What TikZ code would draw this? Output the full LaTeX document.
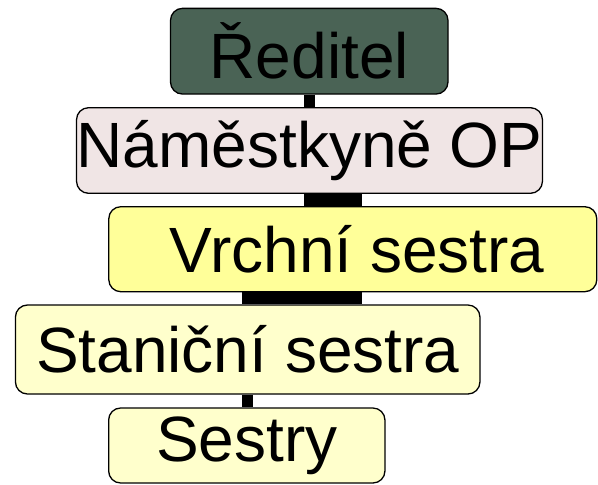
\documentclass[tikz,border=0pt]{standalone}
\usepackage{fontspec}
\setmainfont{Liberation Sans}
\usepackage{tikz}

\definecolor{directorGreen}{RGB}{74,99,85}
\definecolor{deputyPink}{RGB}{240,229,229}
\definecolor{headYellow}{RGB}{255,255,153}
\definecolor{wardYellow}{RGB}{255,255,204}

\begin{document}
\begin{tikzpicture}[%
    x=1pt, y=-1pt,
    rank/.style={%
        draw,
        rounded corners=12pt,
        line width=1.3pt,
        inner sep=0pt,
        align=center,
        font=\fontsize{64}{70}\selectfont
    },
    director/.style={%
        rank,
        fill=directorGreen
    },
    deputy/.style={%
        rank,
        fill=deputyPink
    },
    headNurse/.style={%
        rank,
        fill=headYellow
    },
    wardNurse/.style={%
        rank,
        fill=wardYellow
    },
    connector/.style={%
        draw,
        line width=#1
    }
]
\useasboundingbox (0,0) rectangle (598,485);

% Director
    \node[director, minimum width=277.5pt, minimum height=85.7pt] (director) at (309.25,51.2) {Ředitel};

% Deputy
    \node[deputy, minimum width=457pt, minimum height=85.6pt] (deputy) at (309.5,150.5) {Náměstkyně OP};

% Head nurse
    \node[headNurse, minimum width=488pt, minimum height=85pt] (headNurse) at (352.8,249.2) {\hspace*{9pt}Vrchní sestra};

% Ward nurse
    \node[wardNurse, minimum width=464.5pt, minimum height=89pt] (wardNurse) at (247.7,349.5) {Staniční sestra};

% Nurses
    \node[wardNurse, minimum width=276.3pt, minimum height=75pt] (nurses) at (246.8,445.5) {Sestry};

% Connectors
\draw[connector=11pt] (director.south) -- (director.south |- deputy.north);
\draw[connector=58pt] ([xshift=23.5pt]deputy.south) -- ([xshift=23.5pt]deputy.south |- headNurse.north);
\draw[connector=120pt] ([xshift=-50.8pt]headNurse.south) -- ([xshift=-50.8pt]headNurse.south |- wardNurse.north);
\draw[connector=11.5pt] (wardNurse.south) -- (wardNurse.south |- nurses.north);

\end{tikzpicture}
\end{document}
